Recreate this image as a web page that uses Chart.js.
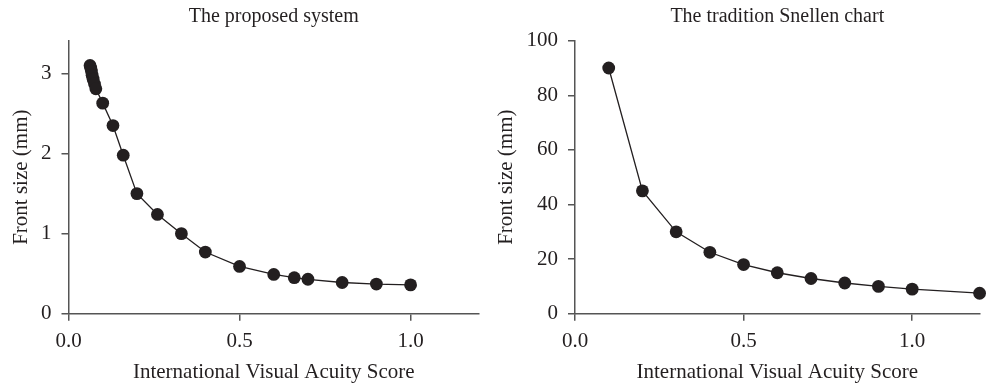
<!DOCTYPE html>
<html>
<head>
<meta charset="utf-8">
<script src="https://cdn.jsdelivr.net/npm/chart.js@4.4.1/dist/chart.umd.min.js"></script>
<style>
    html, body { margin: 0; padding: 0; background: #fff; }
    #wrap { position: relative; width: 986px; height: 389px; }
    .box { position: absolute; top: 0; height: 389px; }
    #leftBox { left: 0; width: 490px; }
    #rightBox { left: 490px; width: 496px; }
</style>
</head>
<body>
<div id="wrap">
    <div class="box" id="leftBox"><canvas id="proposedChart"></canvas></div>
    <div class="box" id="rightBox"><canvas id="snellenChart"></canvas></div>
</div>
<script>
// values
const proposedScore = [0.063, 0.065, 0.067, 0.069, 0.072, 0.076, 0.08, 0.1, 0.13, 0.16, 0.2, 0.26, 0.33, 0.4, 0.5, 0.6, 0.66, 0.7, 0.8, 0.9, 1.0];
const proposedSize = [3.10, 3.07, 3.03, 2.98, 2.93, 2.87, 2.81, 2.63, 2.35, 1.98, 1.5, 1.24, 1.0, 0.77, 0.59, 0.49, 0.45, 0.43, 0.39, 0.37, 0.36];

const snellenScore = [0.1, 0.2, 0.3, 0.4, 0.5, 0.6, 0.7, 0.8, 0.9, 1.0, 1.2];
const snellenSize = [90, 45, 30, 22.5, 18, 15, 12.9, 11.25, 10, 9, 7.5];

const xTicks = [0, 0.5, 1.0];
const proposedYTicks = [0, 1, 2, 3];
const snellenYTicks = [0, 20, 40, 60, 80, 100];

const FONT = '"Liberation Serif", "DejaVu Serif", serif';
const INK = '#231f20';
const AXIS = '#555555';
const PLOT_TOP = 40.7;
const PLOT_BOTTOM = 313.7;
const H = 389;

function toPoints(xs, ys) {
    return xs.map((x, i) => ({ x: x, y: ys[i] }));
}

function axisStyle(tickList, min, max, titleText, decimals, titlePad) {
    return {
        type: 'linear',
        min: min,
        max: max,
        afterBuildTicks: scale => {
            scale.ticks = tickList.map(v => ({ value: v }));
        },
        grid: {
            drawOnChartArea: false,
            drawTicks: true,
            tickLength: 7,
            color: AXIS,
            lineWidth: 1.5
        },
        border: { display: true, color: AXIS, width: 1.5 },
        ticks: {
            color: INK,
            padding: 10,
            font: { family: FONT, size: 21 },
            callback: v => decimals ? Number(v).toFixed(1) : String(v)
        },
        title: {
            display: true,
            text: titleText,
            color: INK,
            font: { family: FONT, size: 21 },
            padding: titlePad
        }
    };
}

function makeChart(id, titleText, xs, ys, yMax, yTicks, yWidth, yTitleTop, rightPad) {
    const ctx = document.getElementById(id);

    const xAxis = axisStyle(xTicks, 0, 1.2, 'International Visual Acuity Score', true, { top: 0, bottom: 4 });
    xAxis.ticks.padding = 8;
    xAxis.afterFit = scale => { scale.height = H - PLOT_BOTTOM; };

    const yAxis = axisStyle(yTicks, 0, yMax, 'Front size (mm)', false, { top: yTitleTop, bottom: 0 });
    yAxis.afterFit = scale => { scale.width = yWidth; };

    // empty top axis that only carries the panel title, centred over the plot
    const titleAxis = {
        type: 'linear',
        position: 'top',
        display: true,
        grid: { display: false, drawTicks: false },
        border: { display: false },
        ticks: { display: false },
        title: {
            display: true,
            text: titleText,
            color: INK,
            font: { family: FONT, size: 20 },
            padding: { top: 5, bottom: 0 }
        },
        afterFit: scale => { scale.height = PLOT_TOP; }
    };

    return new Chart(ctx.getContext('2d'), {
        type: 'scatter',
        data: {
            datasets: [{
                data: toPoints(xs, ys),
                showLine: true,
                borderColor: INK,
                borderWidth: 1.3,
                pointRadius: 6.4,
                pointBackgroundColor: INK,
                pointBorderColor: INK,
                pointBorderWidth: 0,
                clip: false
            }]
        },
        options: {
            responsive: true,
            maintainAspectRatio: false,
            animation: false,
            layout: { padding: { top: 0, right: rightPad, bottom: 0, left: 0 } },
            plugins: {
                legend: { display: false },
                tooltip: { enabled: false },
                title: { display: false }
            },
            scales: {
                x: xAxis,
                y: yAxis,
                panelTitle: titleAxis
            }
        }
    });
}

makeChart('proposedChart', 'The proposed system', proposedScore, proposedSize, 3.41, proposedYTicks, 68.5, 8.4, 11);
makeChart('snellenChart', 'The tradition Snellen chart', snellenScore, snellenSize, 100, snellenYTicks, 85, 3.4, 0);
</script>
</body>
</html>
